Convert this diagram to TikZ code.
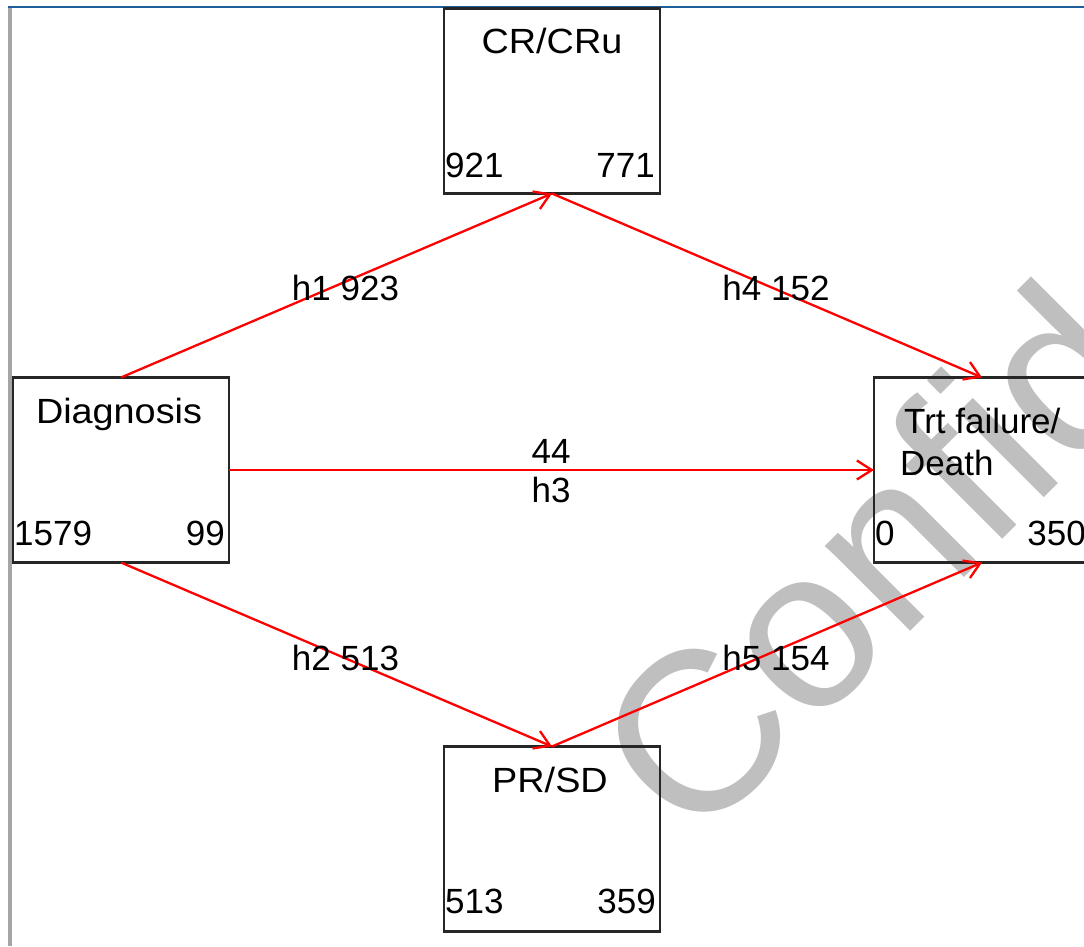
\documentclass[tikz,border=0pt]{standalone}
\usepackage{fontspec}
\setmainfont{Liberation Sans}
\usetikzlibrary{arrows.meta}
\definecolor{wmgray}{RGB}{191,191,191}
\definecolor{framegray}{RGB}{165,165,165}
\definecolor{frameblue}{RGB}{30,95,155}
\begin{document}
\begin{tikzpicture}[x=1pt,y=-1pt,
  statebox/.style={draw=black!85, line width=2.7pt, minimum width=216pt,
    minimum height=185pt, inner sep=0pt, outer sep=0pt},
  txt/.style={inner sep=0pt, font=\fontsize{35}{42}\selectfont, text=black},
  title/.style={txt, anchor=base, xscale=1.08},
  trans/.style={draw=red, line width=2.3pt,
    -{Straight Barb[length=15pt,width=19pt]}},
]
\useasboundingbox (0,0) rectangle (1084,946);
\clip (0,0) rectangle (1084,946);
\fill[white] (0,0) rectangle (1084,946);

% window frame
\fill[framegray] (8,7) rectangle (12,946);
\draw[frameblue, line width=2pt] (8,6.5) -- (1084,6.5);

% watermark behind the diagram
\node[rotate=45, anchor=base west, inner sep=0pt, text=wmgray,
  font=\fontsize{228}{270}\selectfont] (wm) at (693,849) {Confidential};

% states
\node[statebox] (cr) at (552,101) {};
\node[statebox] (dx) at (121,470) {};
\node[statebox] (tf) at (982,470) {};
\node[statebox] (pr) at (552,839) {};

% state titles
\node[title] (crT) at (552,53) {CR/CRu};
\node[title] (dxT) at (119,423) {Diagnosis};
\node[title] (prT) at (550,792) {PR/SD};
\node[txt, anchor=base west] (tfT1) at (904,433) {Trt failure/};
\node[txt, anchor=base west] (tfT2) at (900,475) {Death};

% state counts
\node[txt, anchor=base west] (crL) at (445,177) {921};
\node[txt, anchor=base east] (crR) at (655,177) {771};
\node[txt, anchor=base west] (dxL) at (14,545) {1579};
\node[txt, anchor=base east] (dxR) at (225,545) {99};
\node[txt, anchor=base west] (tfL) at (875,545) {0};
\node[txt, anchor=base east] (tfR) at (1086,545) {350};
\node[txt, anchor=base west] (prL) at (445,913) {513};
\node[txt, anchor=base east] (prR) at (656,913) {359};

% transitions
\draw[trans] (dx.north) -- (cr.south);
\draw[trans] (cr.south) -- (tf.north);
\draw[trans] (dx.east) -- (tf.west);
\draw[trans] (dx.south) -- (pr.north);
\draw[trans] (pr.north) -- (tf.south);

% transition labels
\node[txt, anchor=base] (h1) at (345.5,300) {h1 923};
\node[txt, anchor=base] (h4) at (776,300) {h4 152};
\node[txt, anchor=base] (h2) at (345.5,670) {h2 513};
\node[txt, anchor=base] (h5) at (776,670) {h5 154};
\node[txt, anchor=base] (h3n) at (551,463) {44};
\node[txt, anchor=base] (h3) at (551,502) {h3};
\end{tikzpicture}
\end{document}
